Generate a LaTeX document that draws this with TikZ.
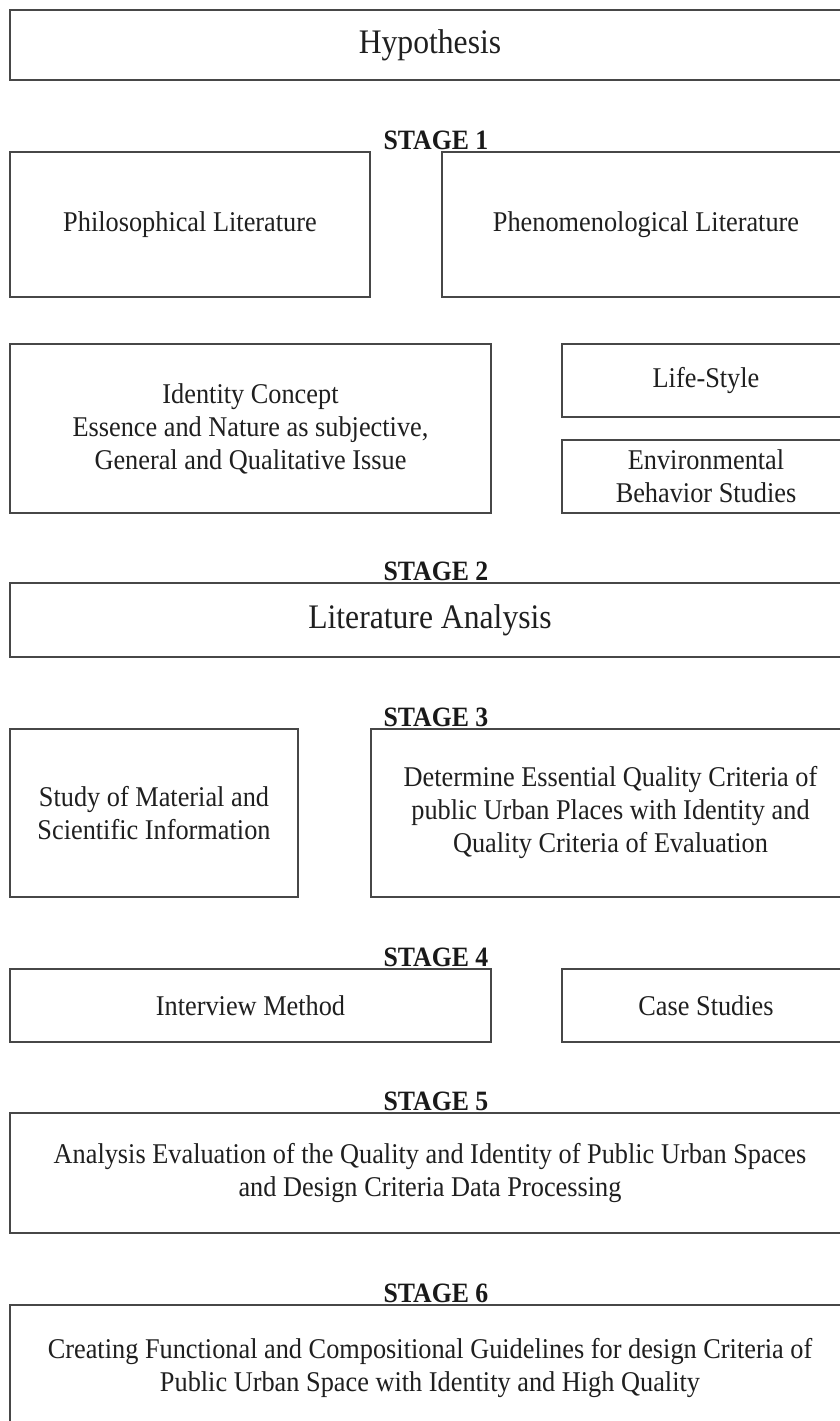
\documentclass[tikz,border=0pt]{standalone}
\usepackage{fontspec}
\setmainfont{Liberation Serif}[FakeStretch=0.92]
\begin{document}
\begin{tikzpicture}[x=1pt,y=-1pt,
  box/.style={draw=black!72,line width=1.3pt,fill=white,rectangle,
    align=center,inner sep=0pt,text=black!88,
    font=\fontsize{28.6}{33}\selectfont},
  bigbox/.style={box,font=\fontsize{34.4}{40}\selectfont},
  stagelabel/.style={anchor=base,inner sep=0pt,text=black!90,
    font=\fontsize{28}{30}\selectfont\bfseries}]
\clip (0,0) rectangle (840,1421);
\fill[white] (0,0) rectangle (840,1421);

% Hypothesis
\node[bigbox,minimum width=840pt,minimum height=70pt] (hyp) at (430,45) {Hypothesis};

% Stage 1
\node[stagelabel] (s1) at (436,149) {STAGE 1};
\node[box,minimum width=360pt,minimum height=145pt] (phil) at (190,224.5) {Philosophical Literature};
\node[box,minimum width=408pt,minimum height=145pt] (phen) at (646,224.5) {Phenomenological Literature};
\node[box,minimum width=481pt,minimum height=169pt] (ident) at (250.5,428.5)
  {Identity Concept\\Essence and Nature as subjective,\\General and Qualitative Issue};
\node[box,minimum width=288pt,minimum height=73pt] (life) at (706,380.5) {Life-Style};
\node[box,minimum width=288pt,minimum height=73pt] (env) at (706,476.5) {Environmental\\Behavior Studies};

% Stage 2
\node[stagelabel] (s2) at (436,580) {STAGE 2};
\node[bigbox,minimum width=840pt,minimum height=74pt] (lit) at (430,620) {Literature Analysis};

% Stage 3
\node[stagelabel] (s3) at (436,726) {STAGE 3};
\node[box,minimum width=288pt,minimum height=168pt] (study) at (154,813)
  {Study of Material and\\Scientific Information};
\node[box,minimum width=479pt,minimum height=168pt] (det) at (610.5,813)
  {Determine Essential Quality Criteria of\\public Urban Places with Identity and\\Quality Criteria of Evaluation};

% Stage 4
\node[stagelabel] (s4) at (436,966) {STAGE 4};
\node[box,minimum width=481pt,minimum height=73pt] (intv) at (250.5,1005.5) {Interview Method};
\node[box,minimum width=288pt,minimum height=73pt] (case) at (706,1005.5) {Case Studies};

% Stage 5
\node[stagelabel] (s5) at (436,1110) {STAGE 5};
\node[box,minimum width=840pt,minimum height=120pt] (anal) at (430,1173)
  {Analysis Evaluation of the Quality and Identity of Public Urban Spaces\\and Design Criteria Data Processing};

% Stage 6
\node[stagelabel] (s6) at (436,1302) {STAGE 6};
\node[box,minimum width=840pt,minimum height=125pt] (create) at (430,1367.5)
  {Creating Functional and Compositional Guidelines for design Criteria of\\Public Urban Space with Identity and High Quality};
\end{tikzpicture}
\end{document}
